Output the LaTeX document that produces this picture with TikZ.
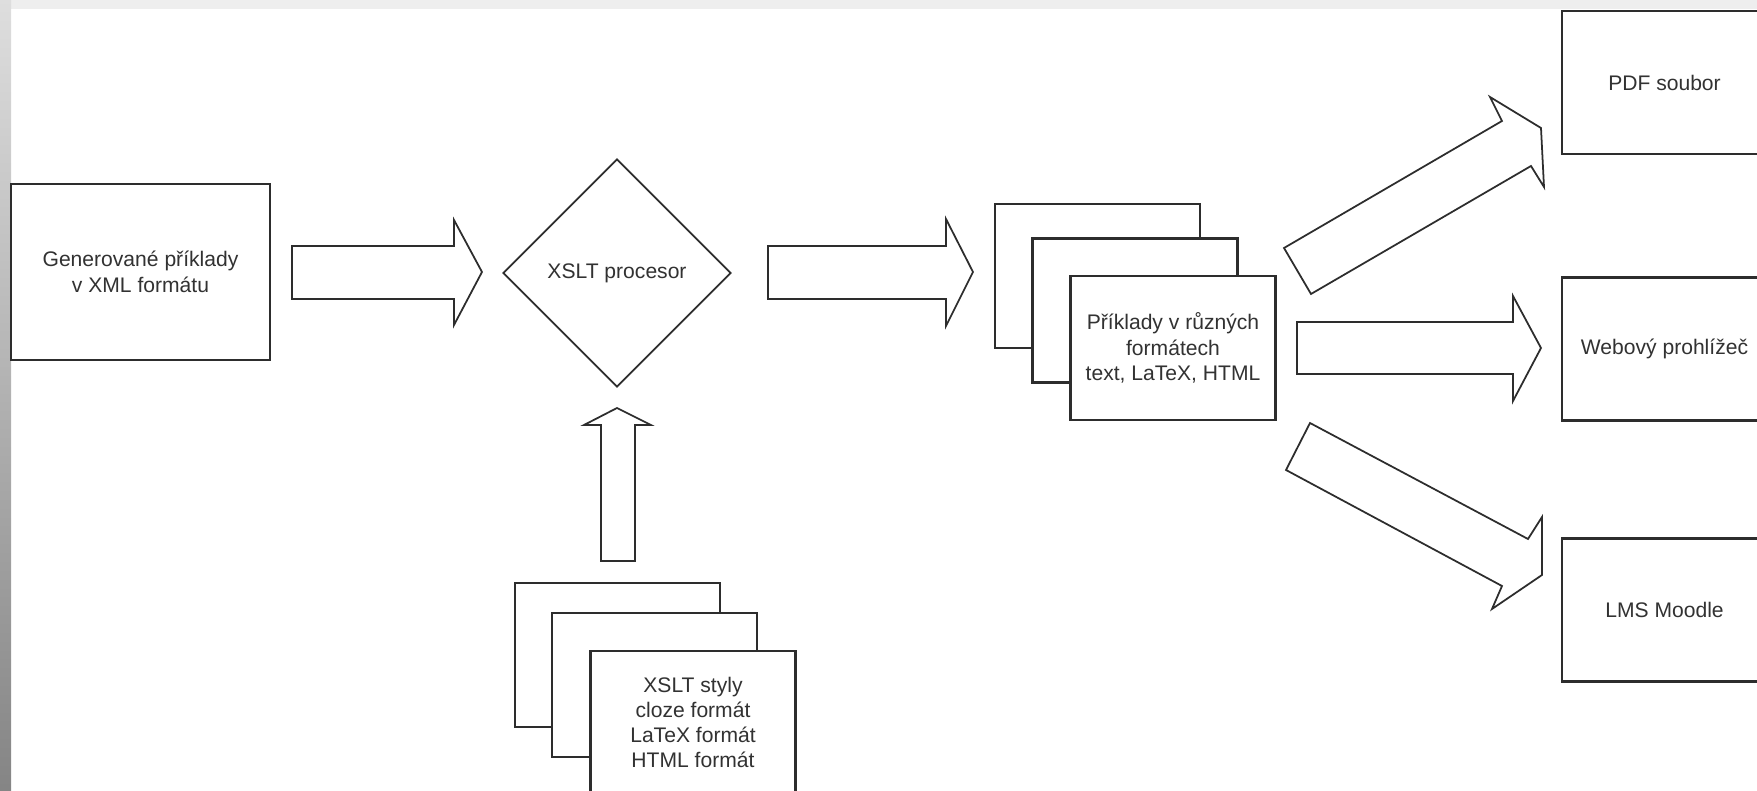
\documentclass[tikz,border=0pt]{standalone}
\usepackage{fontspec}
\setmainfont{Liberation Sans}
\usepackage{tikz}
\usetikzlibrary{shapes.geometric, positioning, calc}
\definecolor{line1}{RGB}{45,45,45}
\definecolor{text1}{RGB}{50,50,50}
\definecolor{strip1}{RGB}{238,238,238}

\begin{document}
\begin{tikzpicture}[
    every node/.style={font=\fontsize{6}{7.2}\selectfont, text=text1, align=center},
    box/.style={draw=line1, fill=white, line width=0.6pt, minimum width=2.05cm, minimum height=1.43cm},
    page/.style={draw=line1, fill=white, line width=0.6pt, minimum width=2.05cm, minimum height=1.44cm},
    proc/.style={draw=line1, fill=white, shape=diamond, aspect=1, line width=0.5pt, minimum width=2.28cm, minimum height=2.28cm, inner sep=0pt},
    blockarrow/.style={draw=line1, fill=white, line width=0.5pt, line join=miter}
]
        \useasboundingbox (0,0) rectangle (17.57,7.91);
        % okraje
        \fill[strip1] (0,7.82) rectangle (17.57,7.91);
        \shade[top color=black!13, bottom color=black!48] (0,0) rectangle (0.11,7.91);

        \node[box, minimum width=2.59cm, minimum height=1.76cm, name=gen] at(1.405,5.19) {Generované příklady\\v XML formátu};
        \node[proc, name=xslt] at(6.17,5.18) {XSLT procesor};

        % priklady ve formatech
        \node[page, name=prikB] at(10.975,5.15) {};
        \node[page, name=prikM] at(11.35,4.805) {};
        \node[page, name=prik] at(11.73,4.43) {Příklady v různých\\formátech\\text, LaTeX, HTML};

        % xslt styly
        \node[page, name=stylB] at(6.175,1.36) {};
        \node[page, name=stylM] at(6.545,1.06) {};
        \node[page, minimum height=1.43cm, name=styl] at(6.93,0.685) {XSLT styly\\cloze formát\\LaTeX formát\\HTML formát};

        \node[box, name=pdf] at(16.645,7.085) {PDF soubor};
        \node[box, name=web] at(16.645,4.42) {Webový prohlížeč};
        \node[box, name=lms] at(16.645,1.81) {LMS Moodle};

        % sipky
        \draw[blockarrow] (2.92,5.45) -- (4.54,5.45) -- (4.54,5.71) -- (4.82,5.19) -- (4.54,4.66) -- (4.54,4.92) -- (2.92,4.92) -- cycle;
        \draw[blockarrow] (7.68,5.45) -- (9.46,5.45) -- (9.46,5.72) -- (9.73,5.19) -- (9.46,4.65) -- (9.46,4.92) -- (7.68,4.92) -- cycle;
        \draw[blockarrow] (6.01,2.30) -- (6.01,3.66) -- (5.84,3.66) -- (6.17,3.83) -- (6.51,3.66) -- (6.35,3.66) -- (6.35,2.30) -- cycle;

        \draw[blockarrow] (12.84,5.43) -- (15.02,6.70) -- (14.90,6.94) -- (15.41,6.63) -- (15.44,6.04) -- (15.31,6.25) -- (13.11,4.97) -- cycle;
        \draw[blockarrow] (12.97,4.69) -- (15.13,4.69) -- (15.13,4.95) -- (15.41,4.43) -- (15.13,3.90) -- (15.13,4.17) -- (12.97,4.17) -- cycle;
        \draw[blockarrow] (13.10,3.68) -- (15.28,2.52) -- (15.42,2.74) -- (15.42,2.16) -- (14.92,1.82) -- (15.02,2.05) -- (12.86,3.21) -- cycle;

\end{tikzpicture}
\end{document}
